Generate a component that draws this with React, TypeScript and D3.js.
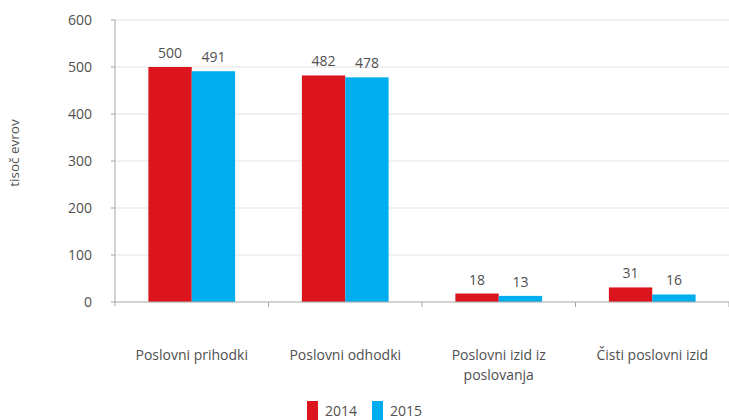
import React from "react";
import * as d3 from "d3";

const categories = ["Poslovni prihodki", "Poslovni odhodki", "Poslovni izid iz|poslovanja", "Čisti poslovni izid"];
const seriesNames = ["2014", "2015"];
const values2014 = [500, 482, 18, 31];
const values2015 = [491, 478, 13, 16];
const yTicks = [0, 100, 200, 300, 400, 500, 600];
const colors = ["#DC141E", "#00ADEF"];

const W = 729, H = 420;
const left = 115, right = 729, top = 20, bottom = 302;
const font = "'Open Sans', sans-serif";
const textColor = "#505050";

export default function App() {
  const y = d3.scaleLinear().domain([0, 600]).range([bottom, top]);
  const x0 = d3.scaleBand<string>().domain(categories).range([left, right]).paddingInner(0).paddingOuter(0);
  const x1 = d3.scaleBand<string>().domain(seriesNames).range([x0.bandwidth() * 0.2175, x0.bandwidth() * 0.7825]);
  const series = [values2014, values2015];
  return (
    <svg width={W} height={H} style={{ position: "absolute", left: 0, top: 0 }} fontFamily={font}>
      {yTicks.map((t) => (
        <g key={t}>
          {t > 0 && <line x1={left} x2={right} y1={y(t)} y2={y(t)} stroke="#e3e3e3" strokeWidth={1} />}
          <line x1={left - 4} x2={left} y1={y(t)} y2={y(t)} stroke="#a6a6a6" />
          <text x={92} y={y(t)} dy="0.35em" textAnchor="end" fontSize={14} fill={textColor}>{t}</text>
        </g>
      ))}
      {categories.map((c, ci) => (
        <g key={c} transform={`translate(${x0(c)},0)`}>
          {series.map((vals, si) => {
            const xs = x1(seriesNames[si])!;
            return (
              <g key={si}>
                <rect x={xs} width={x1.bandwidth()} y={y(vals[ci])} height={bottom - y(vals[ci])} fill={colors[si]} />
                <text x={xs + x1.bandwidth() / 2} y={y(vals[ci]) - 9} textAnchor="middle" fontSize={14} fill={textColor}>{vals[ci]}</text>
              </g>
            );
          })}
          {c.split("|").map((line, li) => (
            <text key={li} x={x0.bandwidth() / 2} y={360 + li * 20} textAnchor="middle" fontSize={14} fill={textColor}>{line}</text>
          ))}
        </g>
      ))}
      <line x1={left} x2={left} y1={top} y2={bottom + 4} stroke="#a6a6a6" />
      <line x1={left} x2={right} y1={bottom} y2={bottom} stroke="#a6a6a6" />
      {categories.map((c) => (
        <line key={c} x1={x0(c)! + x0.bandwidth()} x2={x0(c)! + x0.bandwidth()} y1={bottom} y2={bottom + 5} stroke="#a6a6a6" />
      ))}
      <text transform={`translate(19,153) rotate(-90)`} textAnchor="middle" fontSize={13.5} fill={textColor}>tisoč evrov</text>
      {seriesNames.map((s, i) => (
        <g key={s} transform={`translate(${307 + i * 65},401)`}>
          <rect x={0} y={0} width={11} height={19} fill={colors[i]} />
          <text x={18} y={15} fontSize={14} fill={textColor}>{s}</text>
        </g>
      ))}
    </svg>
  );
}
